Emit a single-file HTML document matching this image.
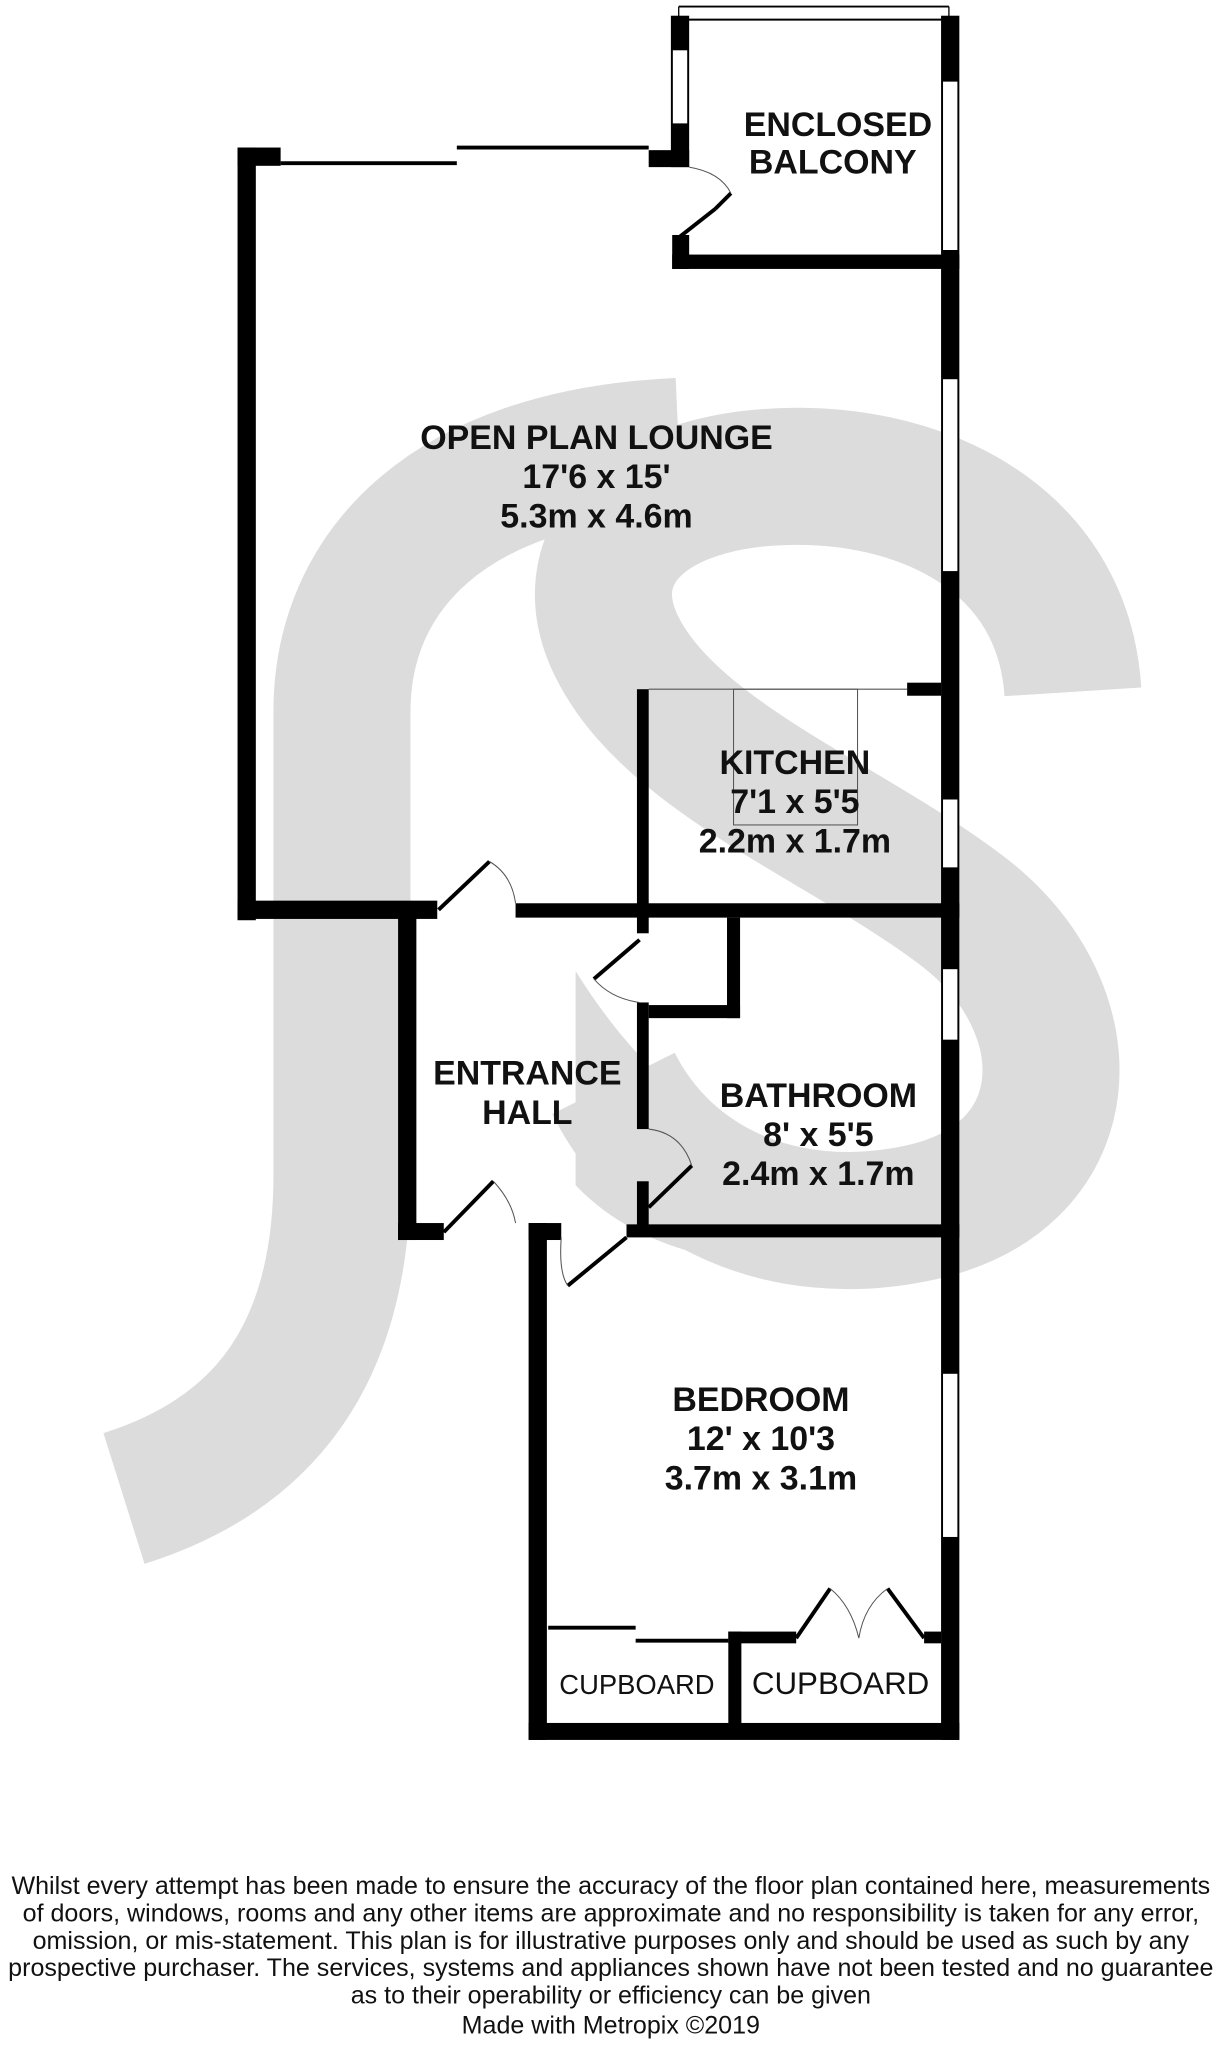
<!DOCTYPE html>
<html><head><meta charset="utf-8"><style>
html,body{margin:0;padding:0;background:#fff;}
svg{display:block}
text{font-family:"Liberation Sans",Arial,sans-serif;fill:#111}
.b{font-weight:bold;font-size:26px}
</style></head><body>
<svg width="1223" height="2048" viewBox="0 0 937 1569" xmlns="http://www.w3.org/2000/svg">
<g fill="none" stroke="#dcdcdc" stroke-linecap="butt">
<path d="M822 530 C815 420 720 368 620 365 C500 362 440 420 470 490 C510 580 650 630 740 700 C835 775 830 905 700 930 C600 950 510 910 470 830" stroke-width="105"/>
<path d="M520 342 C340 350 262 440 262 545 L262 900 C262 1040 200 1115 95 1148" stroke-width="105"/>
</g>
<path d="M441 744 L441 908 Q 500 970 620 970 L 620 880 Q 520 870 441 744Z" fill="#dcdcdc"/>
<g fill="#000">
<rect x="721" y="12" width="14" height="1321"/>
<rect x="514" y="12" width="14" height="116"/>
<rect x="497" y="115" width="31" height="13"/>
<rect x="515" y="180" width="13" height="26"/>
<rect x="515" y="195" width="220" height="11"/>
<rect x="182" y="113" width="33" height="14"/>
<rect x="182" y="113" width="14" height="592"/>
<rect x="182" y="690" width="153" height="14"/>
<rect x="395" y="692" width="340" height="11"/>
<rect x="488" y="528" width="9" height="187"/>
<rect x="695" y="523" width="26" height="10"/>
<rect x="305" y="700" width="14" height="250"/>
<rect x="305" y="937" width="35" height="13"/>
<rect x="405" y="937" width="25" height="13"/>
<rect x="405" y="937" width="14" height="396"/>
<rect x="557" y="703" width="10" height="77"/>
<rect x="497" y="770" width="70" height="10"/>
<rect x="488" y="768" width="9" height="97"/>
<rect x="488" y="905" width="9" height="40"/>
<rect x="480" y="938" width="255" height="10"/>
<rect x="405" y="1320" width="330" height="13"/>
<rect x="558" y="1250" width="10" height="80"/>
<rect x="558" y="1250" width="52" height="9"/>
<rect x="708" y="1250" width="13" height="9"/>
</g>
<g fill="#fff" stroke="#000" stroke-width="1">
<rect x="722" y="62" width="12" height="130"/>
<rect x="722" y="290" width="12" height="148"/>
<rect x="722" y="612" width="12" height="53"/>
<rect x="722" y="742" width="12" height="55"/>
<rect x="722" y="1052" width="12" height="126"/>
<rect x="515" y="38" width="12" height="57"/>
</g>
<g stroke="#000" fill="none">
<line x1="520" y1="5" x2="727" y2="5" stroke-width="1.5"/>
<line x1="520" y1="15" x2="727" y2="15" stroke-width="1.5"/>
<line x1="520" y1="5" x2="520" y2="15"/><line x1="727" y1="5" x2="727" y2="15"/>
<line x1="215" y1="125" x2="350" y2="125" stroke-width="3"/>
<line x1="350" y1="113" x2="497" y2="113" stroke-width="3"/>
<g stroke-width="3">
<line x1="520" y1="182" x2="548" y2="160" /><line x1="548" y1="160" x2="560" y2="148"/>
<line x1="336" y1="697" x2="375" y2="660"/>
<line x1="455" y1="750" x2="490" y2="720"/>
<line x1="497" y1="925" x2="530" y2="893"/>
<line x1="340" y1="944" x2="378" y2="905"/>
<line x1="435" y1="985" x2="480" y2="948"/>
<line x1="610" y1="1255" x2="636" y2="1217"/>
<line x1="680" y1="1217" x2="708" y2="1255"/>
<line x1="420" y1="1247" x2="487" y2="1247"/>
<line x1="487" y1="1257" x2="558" y2="1257"/>
</g>
<g stroke-width="0.8" stroke="#555">
<path d="M528 128 Q552 132 560 148"/>
<path d="M375 660 Q392 670 395 692"/>
<path d="M455 750 Q468 765 490 768"/>
<path d="M497 865 Q522 868 530 893"/>
<path d="M378 905 Q392 920 395 937"/>
<path d="M430 948 Q428 975 435 985"/>
<path d="M636 1217 Q652 1230 658 1255 Q662 1230 680 1217"/>
<line x1="497" y1="528" x2="695" y2="528"/>
<rect x="562" y="528" width="95" height="104"/>
</g>
</g>
<g text-anchor="middle">
<text x="642" y="104" class="b">ENCLOSED</text>
<text x="638" y="133" class="b">BALCONY</text>
<text x="457" y="344" class="b">OPEN PLAN LOUNGE</text>
<text x="457" y="374" class="b">17'6 x 15'</text>
<text x="457" y="404" class="b">5.3m x 4.6m</text>
<text x="609" y="593" class="b">KITCHEN</text>
<text x="609" y="623" class="b">7'1 x 5'5</text>
<text x="609" y="653" class="b">2.2m x 1.7m</text>
<text x="404" y="831" class="b">ENTRANCE</text>
<text x="404" y="861" class="b">HALL</text>
<text x="627" y="848" class="b">BATHROOM</text>
<text x="627" y="878" class="b">8' x 5'5</text>
<text x="627" y="908" class="b">2.4m x 1.7m</text>
<text x="583" y="1081" class="b">BEDROOM</text>
<text x="583" y="1111" class="b">12' x 10'3</text>
<text x="583" y="1141" class="b">3.7m x 3.1m</text>
<text x="488" y="1298" style="font-size:21px">CUPBOARD</text>
<text x="644" y="1298" style="font-size:24px">CUPBOARD</text>
</g>
<g text-anchor="middle" style="font-size:19.2px">
<text x="468" y="1451">Whilst every attempt has been made to ensure the accuracy of the floor plan contained here, measurements</text>
<text x="468" y="1472">of doors, windows, rooms and any other items are approximate and no responsibility is taken for any error,</text>
<text x="468" y="1493">omission, or mis-statement. This plan is for illustrative purposes only and should be used as such by any</text>
<text x="468" y="1514">prospective purchaser. The services, systems and appliances shown have not been tested and no guarantee</text>
<text x="468" y="1535">as to their operability or efficiency can be given</text>
<text x="468" y="1558">Made with Metropix ©2019</text>
</g>
</svg>
</body></html>
